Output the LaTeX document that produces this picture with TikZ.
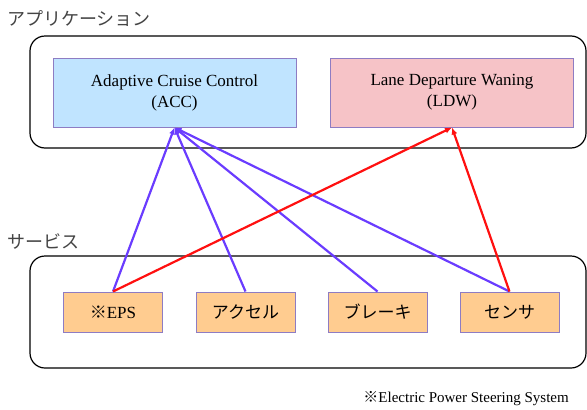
\documentclass[tikz,border=0pt]{standalone}
\usepackage{fontspec}
\setmainfont{Liberation Serif}
\newfontfamily\jp{Noto Sans CJK JP}
\usetikzlibrary{arrows.meta}
\definecolor{accfill}{HTML}{C0E4FF}
\definecolor{ldwfill}{HTML}{F6C3C7}
\definecolor{svcfill}{HTML}{FFCC90}
\definecolor{boxline}{HTML}{8E7CC3}
\definecolor{bluearr}{HTML}{6A3CFF}
\definecolor{redarr}{HTML}{FF1010}
\definecolor{labgray}{HTML}{444444}
\tikzset{
  group/.style={draw=black, line width=1.2pt, rounded corners=15pt, minimum width=556pt, minimum height=112pt},
  appbox/.style={draw=boxline, line width=1pt, minimum width=243pt, minimum height=69pt, align=center, font=\fontsize{17}{21}\selectfont},
  svcbox/.style={draw=boxline, fill=svcfill, line width=1pt, minimum width=99pt, minimum height=40pt, font=\fontsize{17}{20}\selectfont},
  lab/.style={anchor=west, text=labgray, font=\jp\fontsize{18}{20}\selectfont, inner sep=0pt},
  bluel/.style={draw=bluearr, line width=2.2pt, -{Latex[length=7pt,width=6pt]}},
  redl/.style={draw=redarr, line width=2.2pt, -{Latex[length=7pt,width=6pt]}},
}
\begin{document}
\begin{tikzpicture}[x=1pt,y=-1pt]
\useasboundingbox (0,0) rectangle (587,410);
\node[lab] (tapp) at (7,19) {アプリケーション};
\node[lab] (tsvc) at (7,241) {サービス};
\node[group] (app) at (308,92) {};
\node[group] (svc) at (308,312) {};
\node[appbox, fill=accfill] (acc) at (174.5,92.5) {Adaptive Cruise Control\\(ACC)};
\node[appbox, fill=ldwfill] (ldw) at (452,92.5) {Lane Departure Waning\\(LDW)};
\node[svcbox] (eps) at (113,312) {{\jp ※}EPS};
\node[svcbox] (acl) at (245.5,312) {\jp アクセル};
\node[svcbox] (brk) at (377.5,312) {\jp ブレーキ};
\node[svcbox] (sns) at (509.5,312) {\jp センサ};
\node[anchor=east, inner sep=0pt, font=\fontsize{15}{17}\selectfont] (note) at (569,399) {{\jp ※}Electric Power Steering System};
\draw[bluel] (eps.north) -- (acc.south);
\draw[bluel] (acl.north) -- (acc.south);
\draw[bluel] (brk.north) -- (acc.south);
\draw[bluel] (sns.north) -- (acc.south);
\draw[redl] (eps.north) -- (ldw.south);
\draw[redl] (sns.north) -- (ldw.south);
\end{tikzpicture}
\end{document}
